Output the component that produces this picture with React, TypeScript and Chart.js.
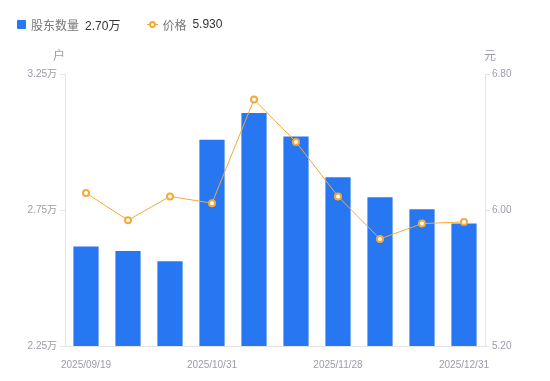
import React, { useEffect, useRef } from "react";
import { Chart, registerables } from "chart.js";

Chart.register(...registerables);

const categories = [
  "2025/09/19", "2025/09/30", "2025/10/20", "2025/10/31", "2025/11/10",
  "2025/11/20", "2025/11/28", "2025/12/10", "2025/12/20", "2025/12/31",
];
const xTickLabels = ["2025/09/19", "2025/10/31", "2025/11/28", "2025/12/31"];
const holders = [2.616, 2.599, 2.562, 3.008, 3.107, 3.02, 2.87, 2.797, 2.753, 2.7];
const prices = [6.1, 5.94, 6.08, 6.04, 6.65, 6.4, 6.08, 5.83, 5.92, 5.93];
const leftTicks = [2.25, 2.75, 3.25];
const rightTicks = [5.2, 6.0, 6.8];

const BLUE = "#2777F2";
const ORANGE = "#F6A937";
const TICK_COLOR = "#9a9cab";
const AXIS_COLOR = "#e3e3e8";
const FONT = "'Liberation Sans', 'Noto Sans CJK SC', sans-serif";

export default function App() {
  const ref = useRef<HTMLCanvasElement | null>(null);

  useEffect(() => {
    document.body.style.margin = "0";
    const canvas = ref.current;
    if (!canvas) return;
    const titlePlugin = {
      id: "axisTitles",
      afterDraw(chart: any) {
        const ctx = chart.ctx;
        const area = chart.chartArea;
        ctx.save();
        ctx.font = `12px ${FONT}`;
        ctx.fillStyle = TICK_COLOR;
        ctx.textAlign = "center";
        ctx.textBaseline = "middle";
        ctx.fillText("户", area.left - 6, area.top - 17);
        ctx.fillText("元", area.right + 5, area.top - 17);
        ctx.restore();
      },
    };
    const chart = new Chart(canvas, {
      type: "bar",
      data: {
        labels: categories,
        datasets: [
          {
            type: "line",
            label: "价格",
            data: prices,
            yAxisID: "y1",
            borderColor: ORANGE,
            borderWidth: 1,
            pointRadius: 3,
            pointBorderWidth: 2,
            pointBackgroundColor: "#ffffff",
            pointBorderColor: ORANGE,
            tension: 0,
            order: 0,
          } as any,
          {
            type: "bar",
            label: "股东数量",
            data: holders,
            yAxisID: "y",
            backgroundColor: BLUE,
            borderWidth: 0,
            barPercentage: 0.6,
            categoryPercentage: 1,
            order: 1,
          },
        ],
      },
      options: {
        responsive: false,
        animation: false,
        layout: { padding: { top: 74, left: 0, right: 0, bottom: 0 } },
        plugins: {
          legend: { display: false },
          tooltip: { enabled: false },
        },
        scales: {
          x: {
            offset: true,
            grid: { display: false },
            border: { display: true, color: AXIS_COLOR },
            afterFit: (s: any) => { s.height = 35; },
            ticks: {
              autoSkip: false,
              maxRotation: 0,
              padding: 5,
              color: TICK_COLOR,
              font: { size: 10, family: FONT },
              callback: (_v: any, i: number) =>
                xTickLabels.includes(categories[i]) ? categories[i] : "",
            },
          },
          y: {
            position: "left",
            min: 2.25,
            max: 3.25,
            afterFit: (s: any) => { s.width = 65; },
            afterBuildTicks: (s: any) => { s.ticks = leftTicks.map((v) => ({ value: v })); },
            grid: { drawOnChartArea: false, drawTicks: true, tickLength: 5, color: AXIS_COLOR },
            border: { display: true, color: AXIS_COLOR },
            ticks: {
              padding: 3,
              color: TICK_COLOR,
              font: { size: 10, family: FONT },
              callback: (v: any) => Number(v).toFixed(2) + "万",
            },
          },
          y1: {
            position: "right",
            min: 5.2,
            max: 6.8,
            afterFit: (s: any) => { s.width = 65; },
            afterBuildTicks: (s: any) => { s.ticks = rightTicks.map((v) => ({ value: v })); },
            grid: { drawOnChartArea: false, drawTicks: true, tickLength: 5, color: AXIS_COLOR },
            border: { display: true, color: AXIS_COLOR },
            ticks: {
              padding: 2,
              color: TICK_COLOR,
              font: { size: 10, family: FONT },
              callback: (v: any) => Number(v).toFixed(2),
            },
          },
        },
      },
      plugins: [titlePlugin],
    });
    return () => chart.destroy();
  }, []);

  const labelStyle: React.CSSProperties = { color: "#777", marginRight: 6 };
  const valueStyle: React.CSSProperties = { color: "#333" };

  return (
    <div style={{ position: "relative", width: 550, height: 381, fontFamily: FONT, background: "#fff" }}>
      <canvas ref={ref} width={550} height={381} style={{ display: "block" }} />
      <div
        style={{
          position: "absolute",
          top: 15,
          left: 17,
          height: 18,
          display: "flex",
          alignItems: "center",
          fontSize: 12,
          whiteSpace: "nowrap",
        }}
      >
        <span style={{ display: "inline-block", width: 9, height: 9, background: BLUE, borderRadius: 1, marginRight: 5 }} />
        <span style={labelStyle}>股东数量</span>
        <span style={valueStyle}>{holders[holders.length - 1].toFixed(2)}万</span>
        <span style={{ position: "relative", display: "inline-block", width: 11, height: 9, marginLeft: 27, marginRight: 4 }}>
          <span style={{ position: "absolute", left: 0, top: 4, width: 11, height: 1, background: ORANGE }} />
          <span
            style={{
              position: "absolute", left: 2, top: 1, width: 3, height: 3,
              borderRadius: "50%", border: `2px solid ${ORANGE}`, background: "#fff",
            }}
          />
        </span>
        <span style={labelStyle}>价格</span>
        <span style={valueStyle}>{prices[prices.length - 1].toFixed(3)}</span>
      </div>
    </div>
  );
}
